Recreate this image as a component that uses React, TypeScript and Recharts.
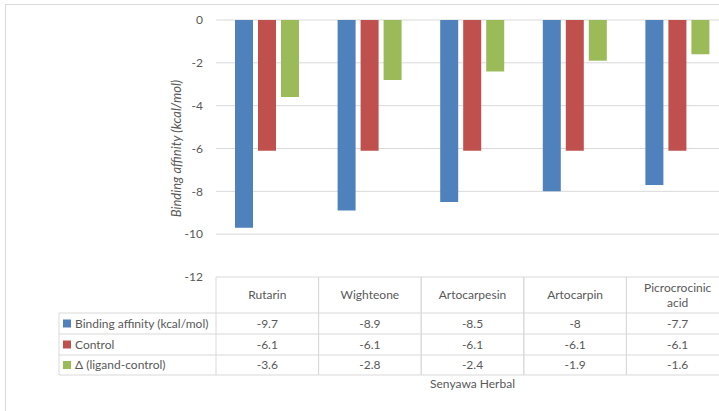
import { BarChart, Bar, XAxis, YAxis, CartesianGrid, Text } from "recharts";

const CATEGORIES = ["Rutarin", "Wighteone", "Artocarpesin", "Artocarpin", "Picrocrocinic acid"];
const BINDING = [-9.7, -8.9, -8.5, -8, -7.7];
const CONTROL = [-6.1, -6.1, -6.1, -6.1, -6.1];
const DELTA = [-3.6, -2.8, -2.4, -1.9, -1.6];
const SERIES_NAMES = ["Binding affinity (kcal/mol)", "Control", "Δ (ligand-control)"];
const SERIES_COLORS = ["#4F81BD", "#C0504D", "#9BBB59"];
const Y_TICKS = [0, -2, -4, -6, -8, -10, -12];

const CHART_W = 760;
const CHART_H = 411;
const MARGIN = { top: 20, right: 31, left: 0, bottom: 0 };
const Y_AXIS_W = 216;
const X_AXIS_H = 134;
const BAND = (CHART_W - MARGIN.left - MARGIN.right - Y_AXIS_W) / CATEGORIES.length;
const TABLE_LEFT = 59;
const GRID = "#D9D9D9";
const TEXT = "#595959";
// row boundaries below the axis line: header, then one row per series
const ROW_EDGES = [0, 36, 57, 78, 98];

const data = CATEGORIES.map((name, i) => ({
  name,
  binding: BINDING[i],
  control: CONTROL[i],
  delta: DELTA[i],
}));
const seriesValues = [BINDING, CONTROL, DELTA];

function TableColumn(props: any) {
  const { x, y, payload } = props;
  const i: number = payload.index;
  const left = x - BAND / 2;
  const right = x + BAND / 2;
  const bottom = y + ROW_EDGES[ROW_EDGES.length - 1];
  return (
    <g>
      <line x1={left} x2={left} y1={y} y2={bottom} stroke={GRID} />
      <line x1={right} x2={right} y1={y} y2={bottom} stroke={GRID} />
      {ROW_EDGES.slice(1).map((r) => (
        <line key={r} x1={left} x2={right} y1={y + r} y2={y + r} stroke={GRID} />
      ))}
      <Text
        x={x}
        y={y + ROW_EDGES[1] / 2}
        width={BAND - 12}
        textAnchor="middle"
        verticalAnchor="middle"
        lineHeight="1.25em"
        fontSize={12}
        fill={TEXT}
      >
        {payload.value}
      </Text>
      {seriesValues.map((vals, s) => (
        <text
          key={s}
          x={x}
          y={y + (ROW_EDGES[s + 1] + ROW_EDGES[s + 2]) / 2 + 4}
          textAnchor="middle"
          fontSize={12}
          fill={TEXT}
        >
          {vals[i]}
        </text>
      ))}
      {i === 0 && (
        <g>
          <line x1={TABLE_LEFT} x2={TABLE_LEFT} y1={y + ROW_EDGES[1]} y2={bottom} stroke={GRID} />
          {ROW_EDGES.slice(1).map((r) => (
            <line key={r} x1={TABLE_LEFT} x2={left} y1={y + r} y2={y + r} stroke={GRID} />
          ))}
          {SERIES_NAMES.map((name, s) => {
            const mid = y + (ROW_EDGES[s + 1] + ROW_EDGES[s + 2]) / 2;
            return (
              <g key={name}>
                <rect x={TABLE_LEFT + 4} y={mid - 4} width={8} height={8} fill={SERIES_COLORS[s]} />
                <text x={TABLE_LEFT + 16} y={mid + 4} fontSize={12} fill={TEXT}>
                  {name}
                </text>
              </g>
            );
          })}
        </g>
      )}
    </g>
  );
}

function YTitle(props: any) {
  const { viewBox } = props;
  const cx = viewBox.x + viewBox.width - 40;
  const cy = viewBox.y + viewBox.height / 2;
  return (
    <text
      x={cx}
      y={cy}
      transform={`rotate(-90, ${cx}, ${cy})`}
      textAnchor="middle"
      dominantBaseline="central"
      fontSize={13}
      fontStyle="italic"
      fill={TEXT}
    >
      Binding affinity (kcal/mol)
    </text>
  );
}

export default function App() {
  return (
    <div
      style={{
        position: "absolute",
        left: 0,
        top: 0,
        width: 719,
        height: 411,
        overflow: "hidden",
        background: "#fff",
        fontFamily: "Lato, sans-serif",
      }}
    >
      <div
        style={{
          position: "absolute",
          left: 5,
          top: 4,
          width: 760,
          height: 420,
          border: `1px solid ${GRID}`,
        }}
      />
      <div style={{ position: "absolute", left: 0, top: 0 }}>
        <BarChart
          width={CHART_W}
          height={CHART_H}
          data={data}
          margin={MARGIN}
          barGap={5}
          barSize={18}
        >
          <CartesianGrid vertical={false} stroke={GRID} />
          <XAxis
            dataKey="name"
            height={X_AXIS_H}
            axisLine={false}
            tickLine={false}
            tickSize={0}
            tickMargin={0}
            interval={0}
            tick={<TableColumn />}
            label={{ value: "Senyawa Herbal", position: "insideBottom", offset: 23, fill: TEXT, fontSize: 12 }}
          />
          <YAxis
            width={Y_AXIS_W}
            domain={[-12, 0]}
            ticks={Y_TICKS}
            axisLine={false}
            tickLine={false}
            tickSize={0}
            tickMargin={13}
            tick={{ fill: TEXT, fontSize: 12 }}
            label={<YTitle />}
          />
          {["binding", "control", "delta"].map((key, s) => (
            <Bar key={key} dataKey={key} fill={SERIES_COLORS[s]} isAnimationActive={false} />
          ))}
        </BarChart>
      </div>
    </div>
  );
}
